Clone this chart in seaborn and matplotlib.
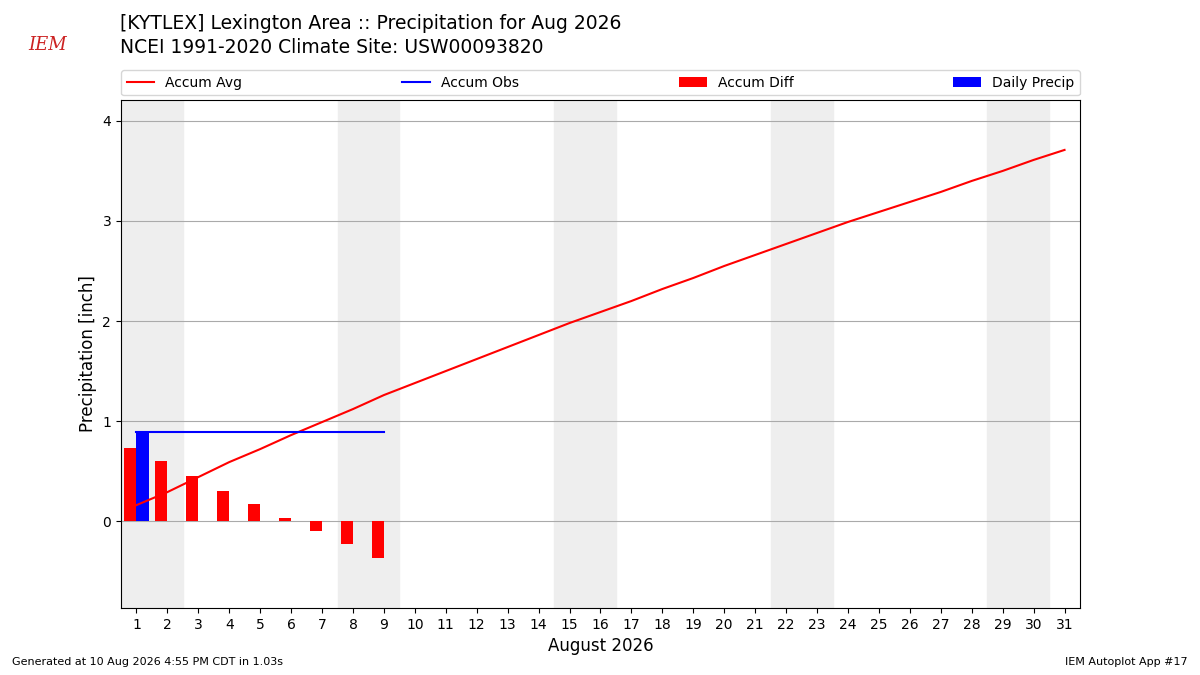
import numpy as np
import matplotlib
matplotlib.use("Agg")
import matplotlib.pyplot as plt
import pandas as pd
import seaborn as sns

plt.rcParams.update({
    "figure.dpi": 100, "font.size": 10, "axes.labelsize": 12,
    "legend.fontsize": 10, "figure.facecolor": "white", "axes.facecolor": "white"
})

AVG = [0.16, 0.29, 0.44, 0.59, 0.72, 0.86, 0.99, 1.12, 1.26, 1.38, 1.50, 1.62,
       1.74, 1.86, 1.98, 2.09, 2.20, 2.32, 2.43, 2.55, 2.66, 2.77, 2.88, 2.99,
       3.09, 3.19, 3.29, 3.40, 3.50, 3.61, 3.71]
DAILY = [0.89, 0, 0, 0, 0, 0, 0, 0, 0]
WEEKENDS = [(0.5, 2.5), (7.5, 9.5), (14.5, 16.5), (21.5, 23.5), (28.5, 30.5)]

def build_frame():
    df = pd.DataFrame({"day": np.arange(1, 32), "avg": AVG})
    obs = pd.DataFrame({"day": np.arange(1, 10), "daily": DAILY})
    obs["accum"] = obs["daily"].cumsum()
    obs["diff"] = obs["accum"] - df["avg"].iloc[:9].values
    return df, obs

def main():
    df, obs = build_frame()
    fig = plt.figure(figsize=(12, 6.75))
    ax = fig.add_axes([0.1008, 0.099, 0.7992, 0.753])

    for lo, hi in WEEKENDS:
        ax.axvspan(lo, hi, color="#eeeeee", zorder=0)

    sns.lineplot(data=df, x="day", y="avg", color="r", ax=ax, label="Accum Avg", zorder=3)
    sns.lineplot(data=obs, x="day", y="accum", color="b", ax=ax, label="Accum Obs", zorder=3)
    ax.bar(obs["day"] - 0.2, obs["diff"], width=0.4, color="r", label="Accum Diff", zorder=2)
    ax.bar(obs["day"] + 0.2, obs["daily"], width=0.4, color="b", label="Daily Precip", zorder=2)

    ax.set_xlim(0.5, 31.5)
    ax.set_ylim(-0.87, 4.21)
    ax.set_xticks(range(1, 32))
    ax.set_yticks(range(0, 5))
    ax.grid(True, axis="y", color="#aaaaaa", linewidth=0.8)
    ax.set_axisbelow(True)
    ax.set_xlabel("August 2026")
    ax.set_ylabel("Precipitation [inch]")
    ax.legend(loc="lower left", bbox_to_anchor=(0, 1.009, 1, 0.05), ncol=4,
              mode="expand", borderaxespad=0, fontsize=10)

    fig.text(0.1, 0.965, "[KYTLEX] Lexington Area :: Precipitation for Aug 2026",
             fontsize=13.5, va="center")
    fig.text(0.1, 0.929, "NCEI 1991-2020 Climate Site: USW00093820",
             fontsize=13.5, va="center")
    fig.text(0.04, 0.933, "IEM", color="#cc2222", fontsize=13, style="italic",
             family="serif", ha="center", va="center")
    fig.text(0.01, 0.015, "Generated at 10 Aug 2026 4:55 PM CDT in 1.03s", fontsize=8)
    fig.text(0.99, 0.015, "IEM Autoplot App #17", fontsize=8, ha="right")

    plt.savefig("out.png")
    plt.close()

if __name__ == "__main__":
    main()
